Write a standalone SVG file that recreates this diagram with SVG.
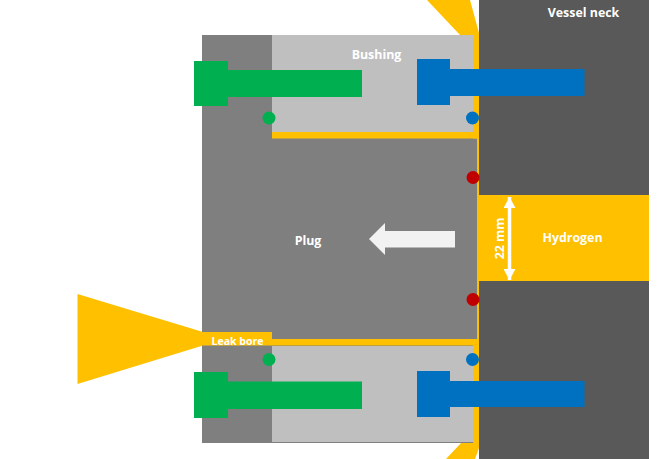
<svg xmlns="http://www.w3.org/2000/svg" width="664" height="459" viewBox="0 0 664 459">
<defs>
<marker id="ah" viewBox="0 0 12 12" refX="11" refY="6" markerWidth="12" markerHeight="12" markerUnits="userSpaceOnUse" orient="auto-start-reverse"><path d="M0 0L11 6L0 12z" fill="#fff"/></marker>
</defs>
<style>
.y{fill:#ffc000}.g{fill:#00b050}.b{fill:#0070c0}.r{fill:#c00000}
text{font-family:"Open Sans","Noto Sans","Liberation Sans",sans-serif;font-weight:700;fill:#fff;font-size:12.400px;text-anchor:middle}
</style>
<rect width="664" height="459" fill="#fff"/>
<g id="sealant">
<polygon class="y" points="427,0 470,0 479,33 479,448 475,459 446,459 462,442 473,442 473,35 460,35"/>
<polygon class="y" points="77.500,294 203,332 203,345.500 77.500,384"/>
</g>
<g id="plug"><path d="M202 35H473V138.500H477V339H473V443H202z" fill="#7f7f7f"/><text x="308" y="245">Plug</text></g>
<g id="bushing">
<rect x="272" y="35" width="201" height="97" fill="#bfbfbf"/>
<rect x="272" y="346" width="201" height="96" fill="#bfbfbf"/>
<rect class="y" x="272" y="132" width="205" height="6.500"/>
<text x="376.500" y="59">Bushing</text>
</g>
<g id="leak-bore">
<path class="y" d="M202 332H272V339H477V345.500H202z"/>
<text x="237.500" y="345" style="font-size:10.500px">Leak bore</text>
</g>
<g id="vessel-neck">
<rect x="479" y="0" width="170" height="195" fill="#595959"/>
<rect x="479" y="281" width="170" height="178" fill="#595959"/>
<text x="583.500" y="17">Vessel neck</text>
</g>
<g id="hydrogen">
<rect class="y" x="477" y="195" width="172" height="86"/>
<text x="572.500" y="242">Hydrogen</text>
</g>
<g id="bolts">
<path class="g" d="M194 61H228V70H362V97H228V106H194z"/>
<path class="b" d="M417 59H450V69H584.500V96H450V105H417z"/>
<path class="g" d="M194 372H228V381.500H362V409H228V418H194z"/>
<path class="b" d="M417 371H450V381H584.500V407H450V417H417z"/>
</g>
<g id="seals">
<circle class="g" cx="269" cy="118" r="6.500"/><circle class="g" cx="269" cy="359.500" r="6.500"/>
<circle class="b" cx="472.500" cy="118" r="6.500"/><circle class="b" cx="472.500" cy="359.500" r="6.500"/>
<circle class="r" cx="473" cy="177.500" r="6.500"/><circle class="r" cx="473" cy="299.500" r="6.500"/>
</g>
<g id="connectors">
<polygon points="369,239 385,223 385,231 455,231 455,247.500 385,247.500 385,255" fill="#f2f2f2"/>
<line x1="509.500" y1="197" x2="509.500" y2="280" stroke="#fff" stroke-width="3.500" marker-start="url(#ah)" marker-end="url(#ah)"/>
</g>
<text transform="translate(503.500,238.500) rotate(-90)">22 mm</text>
</svg>
